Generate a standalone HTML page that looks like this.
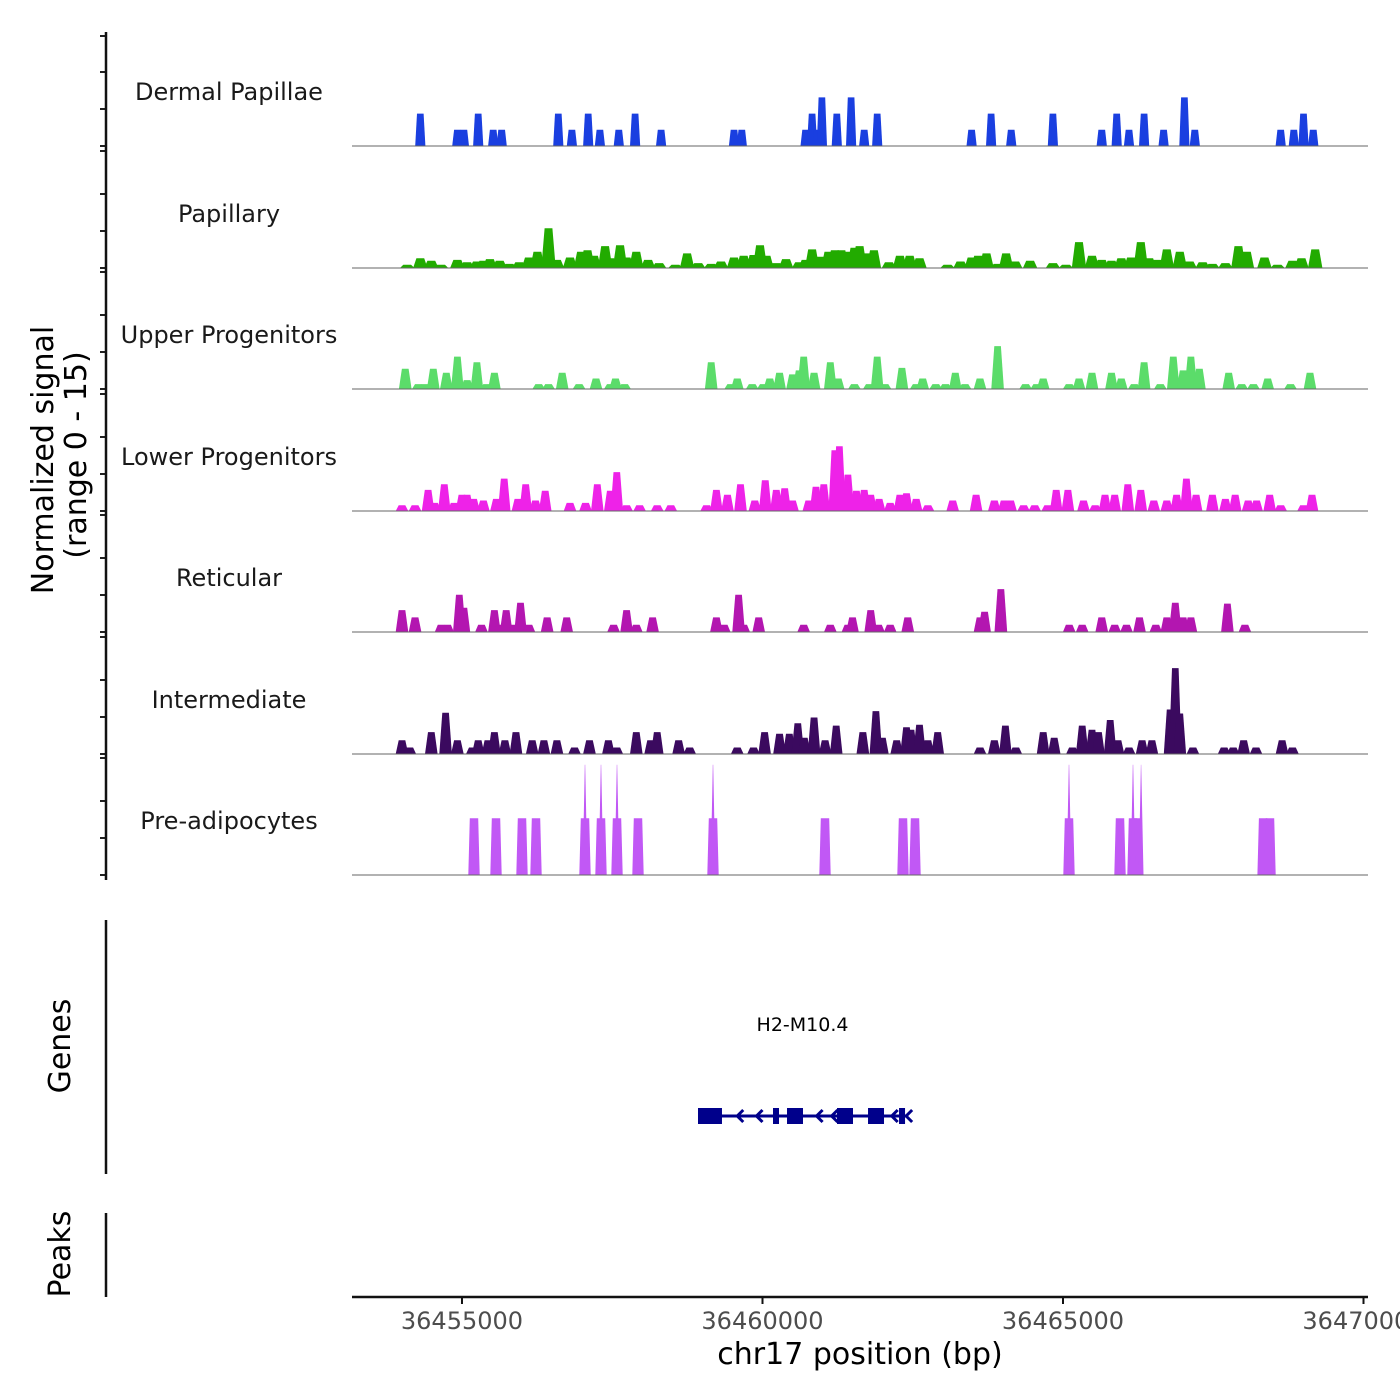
<!DOCTYPE html>
<html><head><meta charset="utf-8"><title>Coverage plot</title>
<style>
html,body{margin:0;padding:0;background:#fff;}
svg{display:block;font-family:"DejaVu Sans","Liberation Sans",sans-serif;}
</style></head>
<body>
<svg id="chart" width="1400" height="1400" viewBox="0 0 1400 1400"></svg>
<script>
// ---------- data ----------
const trackNames=["Dermal Papillae","Papillary","Upper Progenitors","Lower Progenitors","Reticular","Intermediate","Pre-adipocytes"];
const trackColors=["#1a3fe0","#22ab00","#5bdc6a","#ee22e8","#b316b0","#3b0a5f","#c158f5"];
const xTicks=[36455000,36460000,36465000,36470000];

const dpPos=[36454306,36454923,36455031,36455270,36455519,36455660,36456602,36456829,36457100,36457295,
36457609,36457880,36458313,36459526,36459656,36460717,36460825,36460912,36460988,36461237,
36461475,36461692,36461908,36463479,36463804,36464139,36464832,36465645,36465893,36466099,
36466349,36466674,36467020,36467193,36468623,36468840,36469002,36469164];
const dpVal=[4,2,2,4,2,2,4,2,4,2,
2,4,2,2,2,2,4,2,6,4,
6,2,4,2,4,2,4,2,4,2,
4,2,6,2,2,2,4,2];

const papPos=[36454089,36454306,36454490,36454652,36454923,36455085,36455248,36455356,36455464,36455627,
36455789,36455952,36456114,36456255,36456439,36456580,36456797,36456981,36457089,36457197,
36457381,36457468,36457630,36457739,36457901,36458096,36458280,36458551,36458746,36458930,
36459147,36459309,36459526,36459688,36459851,36459959,36460067,36460230,36460392,36460609,
36460717,36460825,36460955,36461096,36461204,36461313,36461421,36461529,36461616,36461746,
36461854,36462103,36462287,36462450,36462612,36463078,36463295,36463479,36463587,36463728,
36463912,36464053,36464204,36464453,36464832,36465049,36465266,36465482,36465645,36465807,
36465970,36466132,36466294,36466435,36466565,36466728,36466944,36467107,36467323,36467486,
36467702,36467919,36468060,36468352,36468569,36468818,36468969,36469197];
const papVal=[0.4,1.2,0.9,0.4,1.0,0.7,0.8,0.9,1.1,0.9,
0.5,0.7,1.3,2.0,4.9,1.0,1.3,2.0,2.2,1.5,
2.7,1.2,2.8,1.3,2.0,1.0,0.6,0.4,1.8,0.6,
0.5,0.8,1.3,1.5,1.6,2.8,1.5,0.6,1.1,0.7,
1.0,2.3,1.4,2.0,2.2,2.2,2.0,2.5,2.7,1.8,
2.2,0.7,1.5,1.5,1.2,0.4,0.8,1.3,1.5,1.8,
0.5,1.8,0.8,0.9,0.6,0.4,3.2,1.5,1.0,0.9,
1.2,1.3,3.2,1.2,1.0,2.3,2.0,0.8,0.7,0.5,
0.6,2.7,2.0,1.3,0.4,0.9,1.2,2.3];

const upPos=[36454056,36454273,36454381,36454522,36454739,36454923,36455085,36455248,36455410,36455540,
36456277,36456439,36456667,36456948,36457230,36457468,36457555,36457706,36459147,36459472,
36459580,36459829,36460013,36460121,36460284,36460500,36460609,36460685,36460858,36461129,
36461259,36461529,36461778,36461908,36462038,36462320,36462558,36462666,36462883,36463045,
36463208,36463370,36463619,36463912,36464378,36464562,36464670,36465103,36465266,36465482,
36465807,36465970,36466186,36466349,36466619,36466836,36466998,36467128,36467269,36467757,
36467973,36468168,36468406,36468785,36469110];
const upVal=[2.5,0.6,0.6,2.5,2.0,4.0,1.1,3.3,0.6,2.0,
0.6,0.6,2.0,0.6,1.3,0.6,1.3,0.6,3.3,0.6,
1.3,0.6,0.6,1.3,2.0,1.8,2.3,4.0,2.0,3.3,
1.3,0.6,0.6,4.0,0.6,2.6,0.6,1.3,0.6,0.6,
2.0,0.6,1.3,5.3,0.6,0.6,1.3,0.6,1.3,2.0,
2.0,1.3,0.6,3.3,0.6,4.0,2.3,4.0,2.5,2.0,
0.6,0.6,1.3,0.6,2.0];

const lowPos=[36454002,36454219,36454436,36454544,36454706,36454869,36454999,36455085,36455194,36455356,
36455573,36455703,36455930,36456060,36456223,36456385,36456797,36457056,36457251,36457468,
36457576,36457739,36457955,36458248,36458475,36459071,36459233,36459417,36459634,36459872,
36460046,36460230,36460370,36460500,36460771,36460890,36461020,36461204,36461280,36461421,
36461562,36461692,36461800,36461941,36462125,36462287,36462396,36462558,36462753,36463165,
36463554,36463858,36464020,36464128,36464345,36464529,36464746,36464887,36465081,36465341,
36465536,36465699,36465861,36466078,36466294,36466511,36466728,36466890,36467053,36467215,
36467486,36467702,36467865,36468081,36468222,36468439,36468623,36469002,36469143];
const lowVal=[0.7,0.7,2.6,1.0,3.3,1.0,2.0,2.0,1.5,1.3,
1.5,4.0,1.5,3.3,1.3,2.5,1.0,1.0,3.3,2.5,
4.8,0.7,0.7,0.7,0.7,0.7,2.6,2.0,3.3,1.3,
3.8,2.6,2.8,1.3,1.3,3.0,3.3,7.5,8.0,4.5,
2.5,2.6,2.0,1.5,1.0,2.0,2.2,1.5,0.7,1.3,
2.0,1.3,1.3,1.3,0.7,0.7,0.7,2.6,2.6,1.3,
0.7,2.0,2.0,3.3,2.6,1.3,1.3,2.0,4.0,2.0,
2.0,1.5,2.0,1.3,1.3,2.0,0.7,0.7,2.0];

const retPos=[36454002,36454219,36454652,36454761,36454955,36455031,36455324,36455540,36455627,36455735,
36455865,36455973,36456114,36456417,36456742,36457522,36457739,36457901,36458172,36459233,
36459363,36459602,36459688,36459937,36460685,36461129,36461421,36461497,36461800,36461930,
36462125,36462417,36463619,36463695,36463966,36465103,36465320,36465645,36465861,36466056,
36466273,36466544,36466728,36466868,36466998,36467128,36467735,36468027];
const retVal=[2.7,1.8,0.9,0.9,4.6,3.0,0.9,2.7,0.9,2.7,
0.9,3.6,0.9,1.8,1.8,0.9,2.7,0.9,1.8,1.8,
0.9,4.6,0.9,1.8,0.9,0.9,0.9,1.8,2.7,0.9,
0.9,1.8,1.8,2.5,5.3,0.9,0.9,1.8,0.9,0.9,
1.8,0.9,1.8,3.6,1.8,1.8,3.5,0.9];

const intPos=[36454002,36454132,36454490,36454728,36454923,36455172,36455270,36455432,36455540,36455714,
36455898,36456168,36456363,36456580,36456872,36457121,36457436,36457576,36457901,36458139,
36458248,36458605,36458789,36459580,36459851,36460035,36460284,36460446,36460587,36460695,
36460858,36461042,36461226,36461670,36461887,36461995,36462233,36462396,36462471,36462612,
36462753,36462915,36463619,36463858,36464042,36464215,36464670,36464854,36465157,36465320,
36465482,36465591,36465785,36465915,36466099,36466316,36466479,36466782,36466868,36466944,
36467161,36467681,36467832,36468006,36468211,36468645,36468818];
const intVal=[1.7,0.8,2.7,5.1,1.7,0.8,1.7,1.7,2.7,1.7,
2.7,1.7,1.7,1.7,0.8,1.7,1.7,0.8,2.7,1.7,
2.7,1.7,0.8,0.8,0.8,2.7,2.5,2.5,3.8,2.0,
4.5,1.7,3.5,2.7,5.3,2.0,1.7,3.3,3.0,3.6,
1.7,2.7,0.8,1.7,3.5,0.8,2.7,2.0,0.8,3.5,
3.0,2.7,4.2,1.7,0.8,1.7,1.7,5.5,10.6,5.0,
0.8,0.8,0.8,1.7,0.8,1.7,0.8];

const preBlockPos=[36455200,36455566,36455998,36456231,36457047,36457313,36457579,36457929,36459177,36461040,
36462338,36462538,36465100,36465949,36466165,36466232,36468329,36468445];
const preBlockVal=[7,7,7,7,7,7,7,7,7,7,7,7,7,7,7,7,7,7];
const preSpikePos=[36457047,36457313,36457579,36459177,36465100,36466165,36466299];
const preSpikeVal=[13.6,13.6,13.6,13.6,13.6,13.6,13.6];

const genePos=[36458927,36462405];
const exonStarts=[36458927,36460175,36460408,36461240,36461756,36462272];
const exonEnds=[36459326,36460275,36460674,36461506,36462022,36462372];
const arrowPos=[36459580,36459900,36460900,36461150,36462150,36462390];

// ---------- scales ----------
const START=36453170, END=36470075, PX0=352, PX1=1368;
function xs(bp){return PX0+(bp-START)*(PX1-PX0)/(END-START);}
const BASE=[146,268,389,511,632,754,875];
const K=8.1;
function ys(t,v){return BASE[t]-v*K;}

const NS="http://www.w3.org/2000/svg";
const svg=document.getElementById('chart');
function mk(tag,attrs,parent){const e=document.createElementNS(NS,tag);for(const k in attrs)e.setAttribute(k,attrs[k]);(parent||svg).appendChild(e);return e;}

function drawPeaks(t,pos,val,W,TW,grp){
  for(let i=0;i<pos.length;i++){
    const p=pos[i],v=val[i];
    const pts=[[xs(p-W/2),BASE[t]],[xs(p-TW/2),ys(t,v)],[xs(p+TW/2),ys(t,v)],[xs(p+W/2),BASE[t]]];
    const el=mk('polygon',{points:pts.map(q=>q[0].toFixed(1)+','+q[1].toFixed(1)).join(' '),fill:trackColors[t]},grp);
    
    
  }
}

const tracks=[[dpPos,dpVal,170,110],[papPos,papVal,240,130],[upPos,upVal,210,110],[lowPos,lowVal,210,110],[retPos,retVal,210,110],[intPos,intVal,210,110]];
for(let t=0;t<7;t++){
  const g=mk('g',{});
  
  
  if(t<6){drawPeaks(t,tracks[t][0],tracks[t][1],tracks[t][2],tracks[t][3],g);}
  else{drawPeaks(t,preBlockPos,preBlockVal,190,140,g);drawPeaks(t,preSpikePos,preSpikeVal,80,6,g);}
  const bl=mk('line',{x1:PX0,x2:PX1,y1:BASE[t],y2:BASE[t],stroke:'#666',"stroke-width":1},g);
  
  
  const lb=mk('text',{x:229,y:BASE[t]-54+8,"text-anchor":"middle","font-size":24,fill:'#1a1a1a'},g);
  lb.textContent=trackNames[t];
  
  
  const offs=t===0?[0,37,74,110]:[0,37,74,117];
  for(const o of offs){
    const tk=mk('line',{x1:100,x2:106,y1:BASE[t]-o,y2:BASE[t]-o,stroke:'#222',"stroke-width":2});
    
    
  }
}
const ya=mk('line',{x1:106,x2:106,y1:32,y2:880,stroke:'#111',"stroke-width":2.5});


const yt=mk('text',{transform:'translate(53,460) rotate(-90)',"text-anchor":"middle","font-size":30,fill:'#000'});
yt.textContent='Normalized signal';


const yt2=mk('text',{transform:'translate(86,455) rotate(-90)',"text-anchor":"middle","font-size":30,fill:'#000'});
yt2.textContent='(range 0 - 15)';



// genes panel
const ga=mk('line',{x1:106,x2:106,y1:920,y2:1174,stroke:'#111',"stroke-width":2.5});


const gt=mk('text',{transform:'translate(70,1046) rotate(-90)',"text-anchor":"middle","font-size":30,fill:'#000'});
gt.textContent='Genes';


const gg=mk('g',{});


const gl=mk('line',{x1:xs(genePos[0]),x2:xs(genePos[1]),y1:1116,y2:1116,stroke:'#00008b',"stroke-width":3},gg);


for(let i=0;i<exonStarts.length;i++){
  const r=mk('rect',{x:xs(exonStarts[i]),y:1108,width:xs(exonEnds[i])-xs(exonStarts[i]),height:16,fill:'#00008b'},gg);
  
  
}
for(const a of arrowPos){
  const ax=xs(a);
  const p=mk('polyline',{points:(ax+6)+',1110 '+ax+',1116 '+(ax+6)+',1122',fill:'none',stroke:'#00008b',"stroke-width":3},gg);
  
  
}
const gn=mk('text',{x:(xs(genePos[0])+xs(genePos[1]))/2,y:1031,"text-anchor":"middle","font-size":19,fill:'#000'},gg);
gn.textContent='H2-M10.4';



// peaks panel
const pa=mk('line',{x1:106,x2:106,y1:1213,y2:1297,stroke:'#111',"stroke-width":2.5});


const pt=mk('text',{transform:'translate(70,1254) rotate(-90)',"text-anchor":"middle","font-size":30,fill:'#000'});
pt.textContent='Peaks';



// x axis
const xa=mk('line',{x1:PX0,x2:PX1,y1:1297,y2:1297,stroke:'#111',"stroke-width":2.5});


for(const v of xTicks){
  const x=xs(v);
  const tk=mk('line',{x1:x,x2:x,y1:1297,y2:1304,stroke:'#111',"stroke-width":2});
  
  
  const tl=mk('text',{x:x,y:1329,"text-anchor":"middle","font-size":24,fill:'#4d4d4d'});
  tl.textContent=String(v);
  
  
}
const xt=mk('text',{x:860,y:1364,"text-anchor":"middle","font-size":30,fill:'#000'});
xt.textContent='chr17 position (bp)';


</script>
</body></html>
